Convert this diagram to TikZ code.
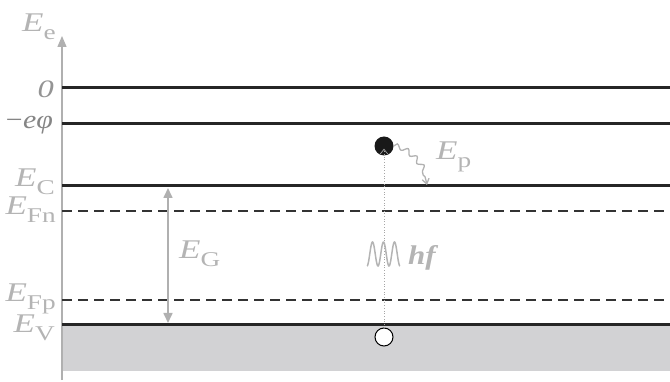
\documentclass[tikz,border=0pt]{standalone}
\usepackage{graphicx}
\usepackage{fontspec}
\setmainfont{Liberation Serif}
\usetikzlibrary{arrows.meta,decorations.pathmorphing}
\definecolor{lbl}{HTML}{B4B4B4}
\definecolor{axisgray}{HTML}{B0B0B0}
\definecolor{bandgray}{HTML}{D2D2D4}
\tikzset{
  level/.style={line width=3pt, draw=black!85},
  fermi/.style={line width=1.3pt, draw=black!80, dash pattern=on 10pt off 6pt},
  lab/.style={text=lbl, font=\fontsize{27}{27}\selectfont\itshape, inner sep=0pt},
  gaparrow/.style={draw=axisgray, line width=1.6pt, {Triangle[length=10pt,width=9pt]}-{Triangle[length=10pt,width=9pt]}},
}
% wide lettering with a lowered upright subscript
\newcommand{\wide}[1]{\scalebox{1.3}[1]{#1}}
\newcommand{\sbs}[1]{\raisebox{-8pt}{\fontsize{21}{21}\selectfont\upshape #1}}
\begin{document}
\begin{tikzpicture}[x=1pt,y=-1pt]
\useasboundingbox (0,0) rectangle (670,382);
% valence band
\fill[bandgray] (62,326) rectangle (670,371);
% energy axis
\coordinate (axb) at (62,380);
\coordinate (axt) at (62,36);
\draw[draw=axisgray, line width=1.3pt, -{Triangle[length=11pt,width=9pt]}] (axb) -- (axt);
% levels
\coordinate (z0) at (62,88);   \coordinate (z1) at (670,88);
\coordinate (p0) at (62,124);  \coordinate (p1) at (670,124);
\coordinate (c0) at (62,186);  \coordinate (c1) at (670,186);
\coordinate (n0) at (62,211);  \coordinate (n1) at (670,211);
\coordinate (f0) at (62,300);  \coordinate (f1) at (670,300);
\coordinate (v0) at (62,325);  \coordinate (v1) at (670,325);
\draw[level] (z0) -- (z1);
\draw[level] (p0) -- (p1);
\draw[level] (c0) -- (c1);
\draw[level] (v0) -- (v1);
\draw[fermi] (n0) -- (n1);
\draw[fermi] (f0) -- (f1);
% axis labels
\node[lab, anchor=base east] (le) at (56,32) {\wide{E\sbs{e}}};
\node[lab, anchor=base east, text=black!42, font=\fontsize{25}{25}\selectfont\itshape] (l0) at (54,98) {\wide{0}};
\node[lab, anchor=base east, text=black!48, font=\fontsize{26}{26}\selectfont\itshape] (lp) at (53,129) {\scalebox{1.15}[1]{−\kern-1pt eφ}};
\node[lab, anchor=base east] (lc) at (55,187) {\wide{E\sbs{C}}};
\node[lab, anchor=base east] (ln) at (56,215) {\wide{E\sbs{Fn}}};
\node[lab, anchor=base east] (lfp) at (56,302) {\wide{E\sbs{Fp}}};
\node[lab, anchor=base east] (lv) at (55,333) {\wide{E\sbs{V}}};
% band gap
\coordinate (g0) at (168,188);
\coordinate (g1) at (168,323);
\draw[gaparrow] (g0) -- (g1);
\node[lab, anchor=base west] (lg) at (179,259) {\wide{E\sbs{G}}};
% photon absorption
\node[circle, draw=black, line width=1pt, fill=white, minimum size=18pt, inner sep=0pt] (hole) at (384,337) {};
\node[circle, fill=black!90, minimum size=19pt, inner sep=0pt] (el) at (384,146) {};
\draw[draw=black!35, line width=0.7pt, dotted, -{Straight Barb[length=5pt,width=8pt]}] (hole.north) -- ([yshift=7pt]el.south);
\draw[draw=lbl, line width=1.5pt] plot[domain=180:1260, samples=120] ({367+(\x-180)/1080*33}, {254-12*cos(\x)});
\node[lab, anchor=base west, font=\fontsize{27}{27}\selectfont\bfseries\itshape] (lhf) at (408,265) {\scalebox{1.15}[1]{hf}};
% thermalisation
\draw[draw=black!30, line width=1.3pt, decorate, decoration={snake, amplitude=2.5pt, segment length=11pt, post length=6pt}, -{Straight Barb[length=5pt,width=7pt]}]
  (el.east) .. controls (405,147) and (424,165) .. (427,185);
\node[lab, anchor=base west] (lep) at (436,160) {\wide{E\sbs{p}}};
\end{tikzpicture}
\end{document}
